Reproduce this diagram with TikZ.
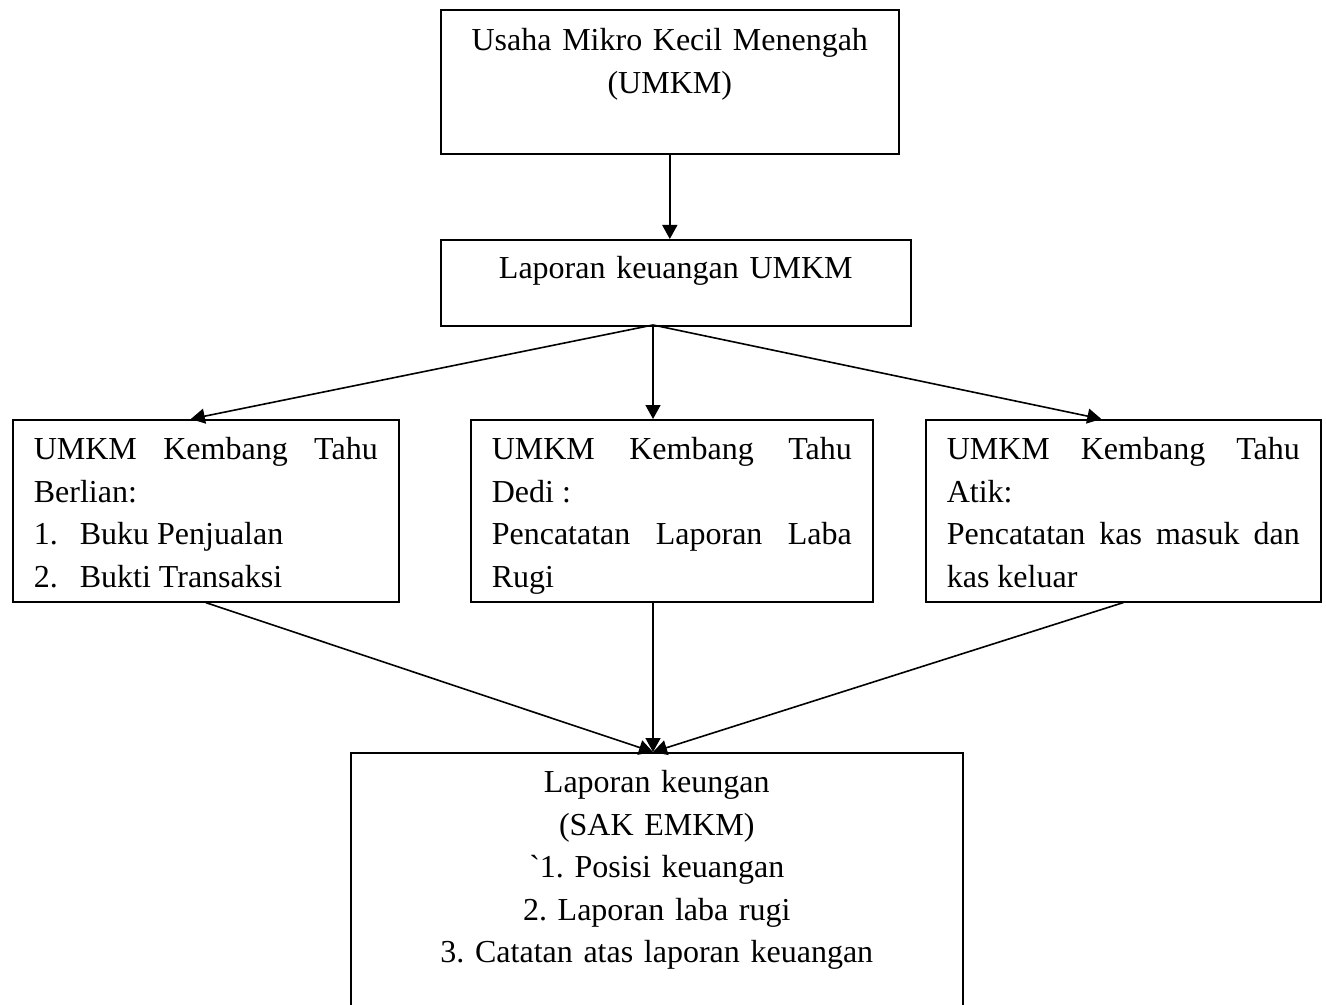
\documentclass[tikz,border=0pt]{standalone}
\usepackage{fontspec}
\setmainfont{Liberation Serif}
\usetikzlibrary{arrows.meta}
\tolerance=9999
\hyphenpenalty=10000
\exhyphenpenalty=10000
\frenchspacing

\tikzset{
    kotak/.style={draw, line width=0.8pt, anchor=north west, inner ysep=0pt,
        font=\fontsize{16}{21.25}\selectfont},
    tengah/.style={kotak, inner xsep=0pt, align=center},
    rata/.style={kotak, inner xsep=10.5pt, align=justify, text height=20pt, text depth=71pt},
    panah/.style={-{Triangle[length=7pt,width=7.5pt]}, line width=0.8pt}
}

\begin{document}
\begin{tikzpicture}[x=0.5pt, y=-0.5pt]
            \clip (0,0) rectangle (1326,1005);
            \node[tengah, text width=229pt, text height=20.5pt, text depth=51.5pt] (umkm) at (440,9) {Usaha Mikro Kecil Menengah\\(UMKM)};
            \node[tengah, text width=235pt, text height=19.5pt, text depth=23.5pt] (lapuk) at (440,239) {Laporan keuangan UMKM};
            \node[rata, text width=172pt] (berlian) at (12,419) {UMKM Kembang Tahu Berlian:\par
                \makebox[23pt][l]{1.}Buku Penjualan\par
                \makebox[23pt][l]{2.}Bukti Transaksi};
            \node[rata, text width=180pt] (dedi) at (470,419) {UMKM Kembang Tahu Dedi~:\par Pencatatan Laporan Laba Rugi};
            \node[rata, text width=176.5pt] (atik) at (925,419) {UMKM Kembang Tahu Atik:\par Pencatatan kas masuk dan kas keluar};
            \node[tengah, text width=306pt, text height=20pt, text depth=130pt] (sak) at (350,752) {Laporan keungan\\(SAK EMKM)\\\textasciigrave1. Posisi keuangan\\2. Laporan laba rugi\\3. Catatan atas laporan keuangan};
            % panah
            \coordinate (cabang) at (653,325);
            \coordinate (temu) at (653,752);
            \draw[panah] (umkm.south) -- (umkm.south |- lapuk.north);
            \draw[panah] (cabang) -- ([xshift=-7.5pt]berlian.north);
            \draw[panah] (cabang) -- (cabang |- dedi.north);
            \draw[panah] (cabang) -- ([xshift=-11pt]atik.north);
            \draw[panah] (berlian.south) -- (temu);
            \draw[panah] (temu |- dedi.south) -- (temu);
            \draw[panah] (atik.south) -- (temu);
        \end{tikzpicture}
\end{document}
